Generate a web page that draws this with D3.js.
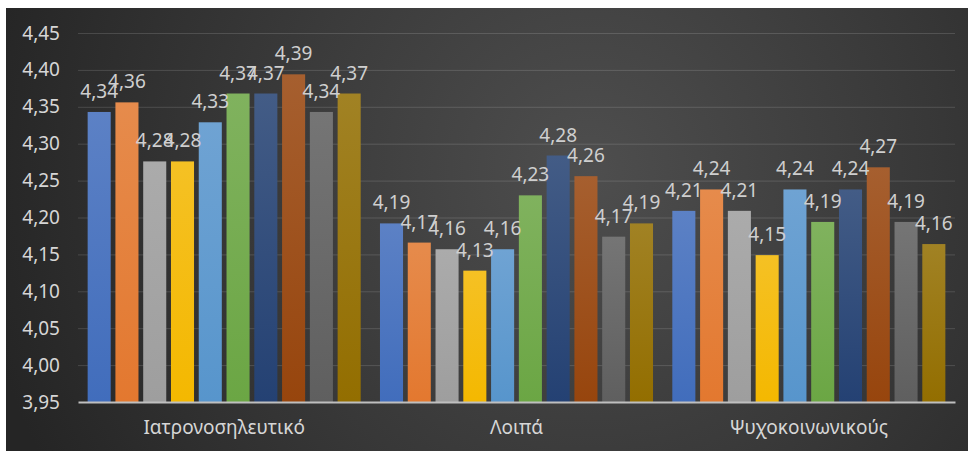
<!DOCTYPE html>
<html>
<head>
<meta charset="utf-8">
<script src="https://cdn.jsdelivr.net/npm/d3@7"></script>
<style>
  html, body { margin: 0; padding: 0; background: #ffffff; }
  svg { display: block; }
</style>
</head>
<body>
<svg id="chart" width="968" height="451"></svg>
<script>
// Categories and the ten series shown in each group
const categories = ["Ιατρονοσηλευτικό", "Λοιπά", "Ψυχοκοινωνικούς"];
const seriesNames = ["S1", "S2", "S3", "S4", "S5", "S6", "S7", "S8", "S9", "S10"];

// Mean scores per category, one entry per series
const valuesIatro = [4.343, 4.356, 4.276, 4.276, 4.329, 4.368, 4.368, 4.394, 4.343, 4.368];
const valuesLoipa = [4.192, 4.166, 4.157, 4.128, 4.157, 4.230, 4.284, 4.256, 4.174, 4.192];
const valuesPsycho = [4.209, 4.238, 4.209, 4.149, 4.238, 4.194, 4.238, 4.268, 4.194, 4.164];

const yTicks = [3.95, 4.00, 4.05, 4.10, 4.15, 4.20, 4.25, 4.30, 4.35, 4.40, 4.45];

const seriesColors = ["#4472C4", "#ED7D31", "#A5A5A5", "#FFC000", "#5B9BD5",
                      "#70AD47", "#264478", "#9E480E", "#636363", "#997300"];

const rows = [valuesIatro, valuesLoipa, valuesPsycho];

const svg = d3.select("#chart");
const W = 968, H = 451;
const frame = { x: 6, y: 8 };
const plot = { left: 78, right: 955, top: 33, bottom: 402 };

const fmt = v => v.toFixed(2).replace(".", ",");
const FONT = "'Noto Sans', 'Open Sans', sans-serif";
const FS = 19;

const defs = svg.append("defs");

// Dark chart background with a soft lighter centre
const bg = defs.append("radialGradient")
  .attr("id", "bgGrad")
  .attr("gradientUnits", "userSpaceOnUse")
  .attr("cx", 590).attr("cy", 170).attr("r", 620);
bg.append("stop").attr("offset", "0%").attr("stop-color", "#4e4e4e");
bg.append("stop").attr("offset", "55%").attr("stop-color", "#383838");
bg.append("stop").attr("offset", "100%").attr("stop-color", "#252525");

svg.append("rect")
  .attr("x", frame.x).attr("y", frame.y)
  .attr("width", W - frame.x).attr("height", H - frame.y)
  .attr("fill", "url(#bgGrad)");

// Vertical gradient per series: lighter tint on top, full colour at the base
seriesColors.forEach((c, i) => {
  const g = defs.append("linearGradient")
    .attr("id", "barGrad" + i)
    .attr("x1", 0).attr("y1", 0).attr("x2", 0).attr("y2", 1);
  const top = d3.interpolateRgb(c, "#c8c8c8")(0.18);
  const bottom = d3.color(c).darker(0.12).formatHex();
  g.append("stop").attr("offset", "0%").attr("stop-color", top);
  g.append("stop").attr("offset", "100%").attr("stop-color", bottom);
});

// Scales
const y = d3.scaleLinear()
  .domain([yTicks[0], yTicks[yTicks.length - 1]])
  .range([plot.bottom, plot.top]);

const x0 = d3.scaleBand()
  .domain(categories)
  .range([plot.left, plot.right])
  .paddingInner(0.066)
  .paddingOuter(0.033);

const x1 = d3.scaleBand()
  .domain(seriesNames)
  .range([0, x0.bandwidth()])
  .paddingInner(0.17)
  .paddingOuter(0);

// Horizontal gridlines
const yAxisGrid = d3.axisLeft(y)
  .tickValues(yTicks.slice(1))
  .tickSize(-(plot.right - plot.left))
  .tickFormat("");
const grid = svg.append("g")
  .attr("transform", `translate(${plot.left},0)`)
  .call(yAxisGrid);
grid.select(".domain").remove();
grid.selectAll(".tick line")
  .attr("stroke", "rgba(255,255,255,0.14)")
  .attr("stroke-width", 1);

// Y tick labels
const yAxis = d3.axisLeft(y)
  .tickValues(yTicks)
  .tickSize(0)
  .tickPadding(18)
  .tickFormat(fmt);
const ya = svg.append("g")
  .attr("transform", `translate(${plot.left},0)`)
  .call(yAxis);
ya.select(".domain").remove();
ya.selectAll(".tick text")
  .attr("fill", "#d6d6d6")
  .attr("font-family", FONT)
  .attr("font-size", FS);

// Bars
const groups = svg.append("g")
  .selectAll("g")
  .data(categories)
  .join("g")
  .attr("transform", d => `translate(${x0(d)},0)`);

groups.selectAll("rect")
  .data((d, ci) => rows[ci].map((v, si) => ({ v, si })))
  .join("rect")
  .attr("x", d => x1(seriesNames[d.si]))
  .attr("y", d => y(d.v))
  .attr("width", x1.bandwidth())
  .attr("height", d => plot.bottom - y(d.v))
  .attr("fill", d => `url(#barGrad${d.si})`);

// Value labels above bars
groups.selectAll("text.val")
  .data((d, ci) => rows[ci].map((v, si) => ({ v, si })))
  .join("text")
  .attr("class", "val")
  .attr("x", d => x1(seriesNames[d.si]) + x1.bandwidth() / 2)
  .attr("y", d => y(d.v) - 14)
  .attr("text-anchor", "middle")
  .attr("fill", "#cfcfcf")
  .attr("font-family", FONT)
  .attr("font-size", FS)
  .text(d => fmt(d.v));

// Category axis baseline and labels
const xAxis = d3.axisBottom(x0).tickSize(0).tickPadding(19);
const xa = svg.append("g")
  .attr("transform", `translate(0,${plot.bottom})`)
  .call(xAxis);
xa.select(".domain")
  .attr("stroke", "#bfbfbf")
  .attr("stroke-width", 2);
xa.selectAll(".tick text")
  .attr("fill", "#d6d6d6")
  .attr("font-family", FONT)
  .attr("font-size", FS);
</script>
</body>
</html>
